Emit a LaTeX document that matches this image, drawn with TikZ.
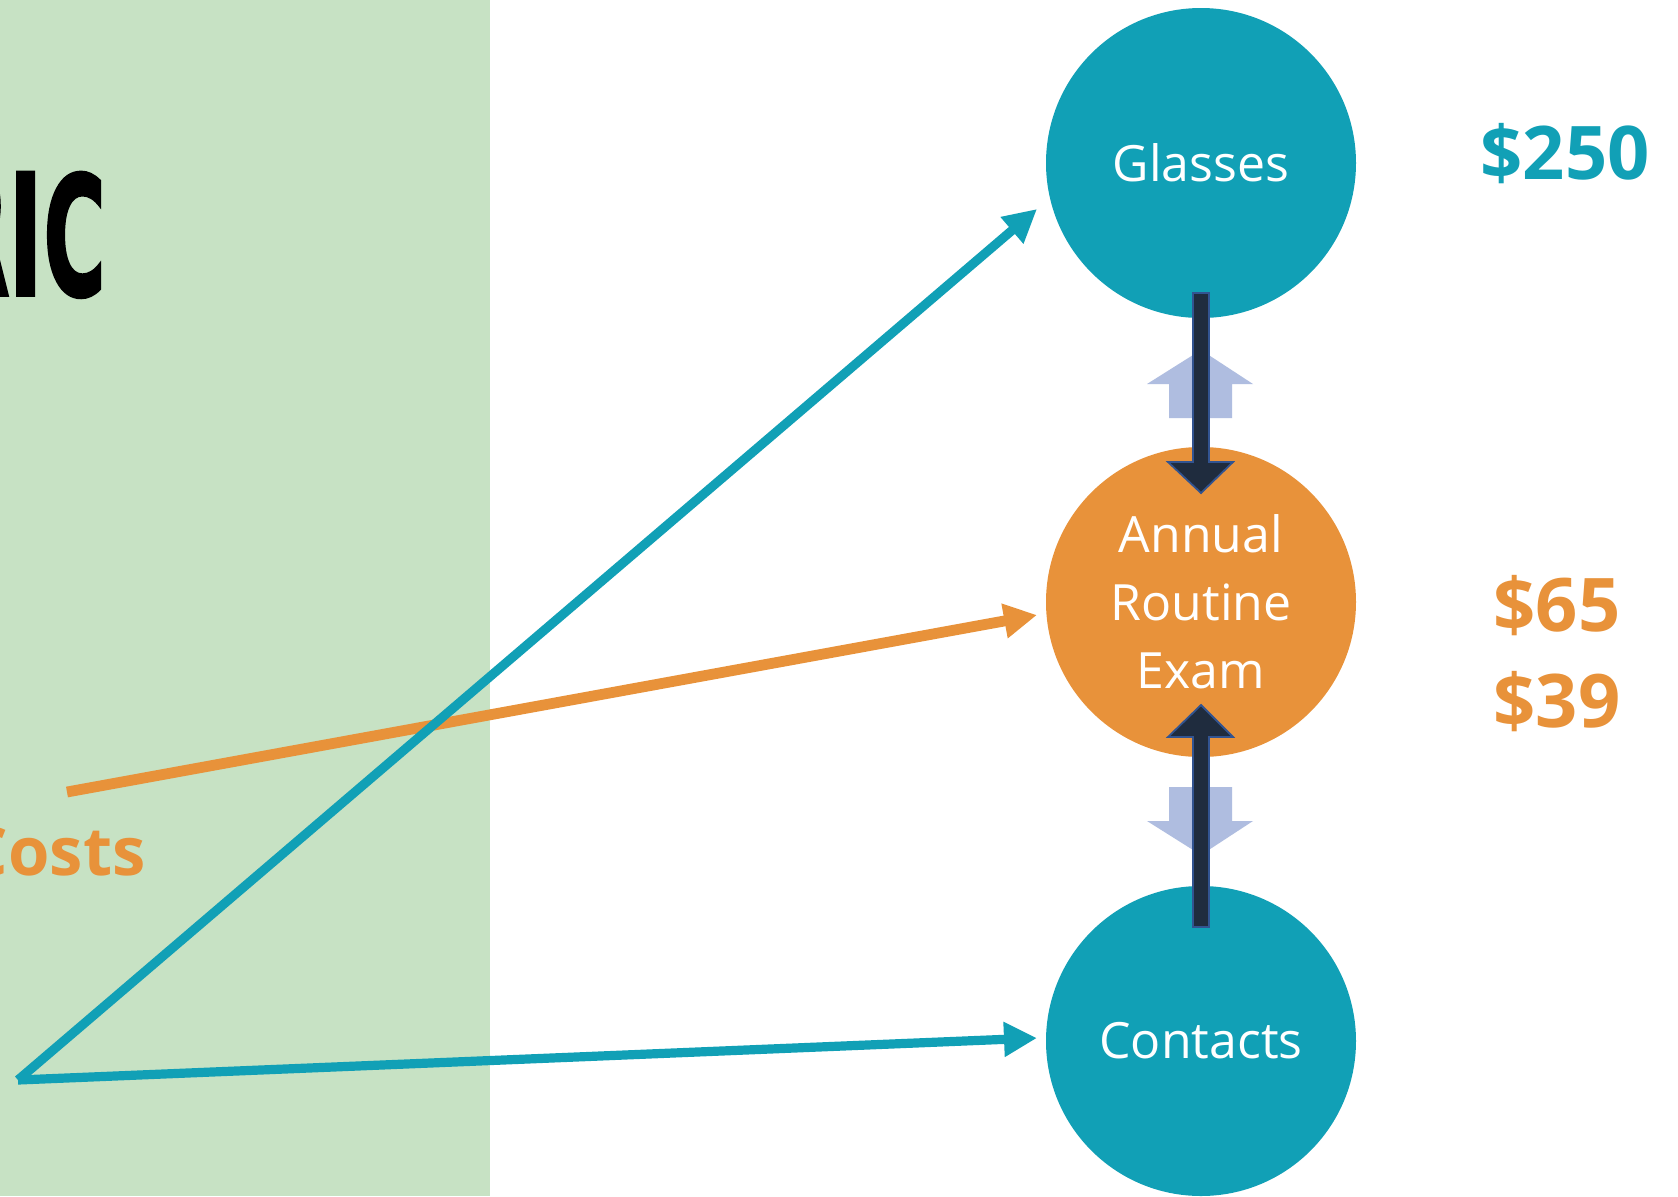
\documentclass[tikz,border=0pt]{standalone}
\usepackage{fontspec}
\setmainfont{Open Sans}
\newfontfamily\ricfont{DejaVu Sans}[FakeBold=2]
\usetikzlibrary{arrows.meta,calc}

\definecolor{tealc}{RGB}{17,160,182}
\definecolor{orangec}{RGB}{232,146,58}
\definecolor{greenbg}{RGB}{199,226,196}
\definecolor{paleblue}{RGB}{175,189,224}
\definecolor{navyfill}{RGB}{31,44,62}
\definecolor{navyedge}{RGB}{50,84,145}

\tikzset{
  bubble/.style={circle, minimum size=155pt, inner sep=0pt, text=white,
    align=center, font=\fontsize{25}{34}\selectfont},
  price/.style={font=\fontsize{37}{40}\selectfont\bfseries, anchor=base, inner sep=0pt},
  link/.style={line width=4.6pt, -{Triangle[length=16.5pt,width=16.5pt]}},
  softarrow/.style={fill=paleblue},
  hardarrow/.style={fill=navyfill, draw=navyedge, line width=0.9pt, line join=miter}
}

\begin{document}
\begin{tikzpicture}[x=0.5pt,y=-0.5pt]
  % canvas and left panel
  \useasboundingbox (0,0) rectangle (1678,1196);
  \fill[white] (0,0) rectangle (1678,1196);
  \fill[greenbg] (0,0) rectangle (490,1196);

  % title fragment and cost label on the panel
  \node[anchor=south east, inner sep=0pt] (title) at (106,298)
    {\ricfont\bfseries\resizebox{33pt}{61.5pt}{R}\kern-0.5pt\resizebox{17pt}{61.5pt}{I}\kern0.5pt\resizebox{31pt}{61.5pt}{C}};
  \node[anchor=base east, inner sep=0pt, text=orangec,
    font=\fontsize{33.5}{36}\selectfont\bfseries] (costs) at (146,875) {Costs};

  % the three services
  \node[bubble, fill=tealc] (glasses) at (1201,163) {Glasses};
  \node[bubble, fill=orangec] (exam) at (1201,602) {Annual\\Routine\\Exam};
  \node[bubble, fill=tealc] (contacts) at (1201,1041) {Contacts};

  % prices
  \node[price, text=tealc] (p250) at (1565,179) {\$250};
  \node[price, text=orangec] (p65) at (1557,631) {\$65};
  \node[price, text=orangec] (p39) at (1557,727) {\$39};

  % connectors from the cost label region
  \coordinate (orig) at (18,1080);
  \coordinate (ostart) at (67,792);
  \coordinate (gtip) at ($(glasses.center)+(-164,46)$);
  \coordinate (etip) at ($(exam.center)+(-164,13)$);
  \coordinate (ctip) at ($(contacts.center)+(-164,-3)$);
  \draw[link, draw=orangec, fill=orangec, line width=5.4pt] (ostart) -- (etip);
  \draw[link, draw=tealc, fill=tealc, line join=miter] (orig) -- (gtip);
  \draw[link, draw=tealc, fill=tealc] (orig) -- (ctip);

  % pale block arrows between the circles
  \fill[softarrow] ($(glasses.center)+(0,187)$) -- ++(52,34) -- ++(-21,0) -- ++(0,34)
    -- ++(-63,0) -- ++(0,-34) -- ++(-22,0) -- cycle;
  \fill[softarrow] ($(exam.center)+(0,253)$) -- ++(52,-34) -- ++(-21,0) -- ++(0,-34)
    -- ++(-63,0) -- ++(0,34) -- ++(-22,0) -- cycle;

  % dark block arrows linking the circles
  \draw[hardarrow] ($(glasses.center)+(-8,130)$) -- ($(glasses.center)+(8,130)$)
    -- ($(exam.center)+(8,-140)$) -- ($(exam.center)+(32,-140)$)
    -- ($(exam.center)+(0,-109)$) -- ($(exam.center)+(-33,-140)$)
    -- ($(exam.center)+(-8,-140)$) -- cycle;
  \draw[hardarrow] ($(contacts.center)+(-8,-114)$) -- ($(contacts.center)+(8,-114)$)
    -- ($(exam.center)+(8,135)$) -- ($(exam.center)+(32,135)$)
    -- ($(exam.center)+(0,103)$) -- ($(exam.center)+(-33,135)$)
    -- ($(exam.center)+(-8,135)$) -- cycle;
\end{tikzpicture}
\end{document}
